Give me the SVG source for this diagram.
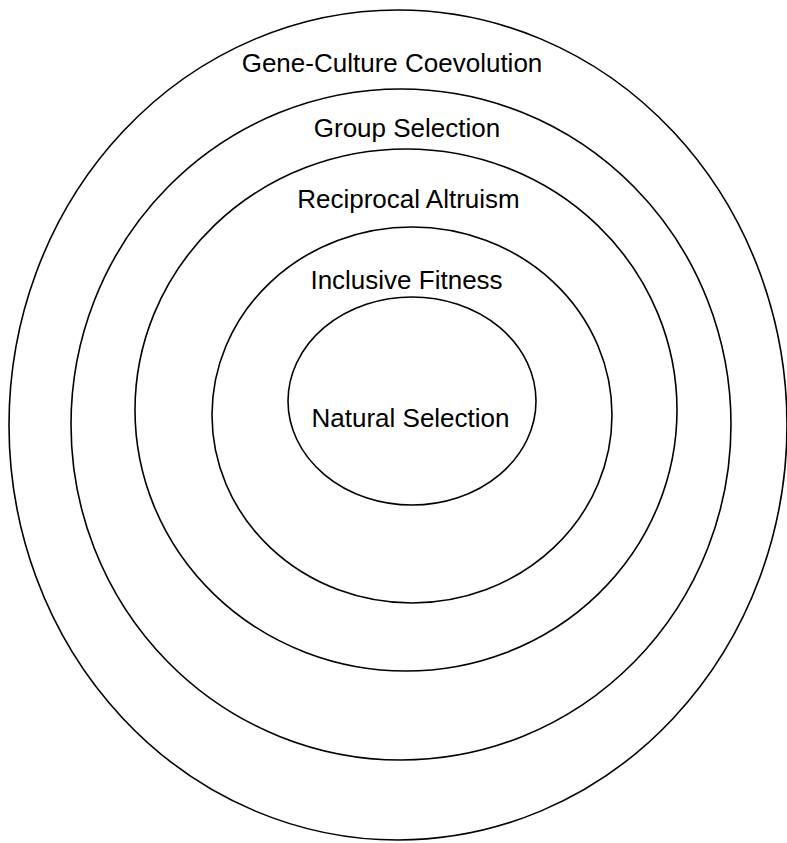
<svg xmlns="http://www.w3.org/2000/svg" width="787" height="843" viewBox="0 0 787 843">
<style>
.ring{fill:none;stroke:#000;stroke-width:1.6}
.lbl{font-family:"Liberation Sans",Arial,sans-serif;font-size:26px;fill:#000;text-anchor:middle}
</style>
<rect width="787" height="843" fill="#fff"/>
<g id="gene-culture-coevolution">
<ellipse class="ring" cx="398" cy="425" rx="389" ry="415"/>
<text class="lbl" x="392" y="72">Gene-Culture Coevolution</text>
</g>
<g id="group-selection">
<ellipse class="ring" cx="401" cy="424.5" rx="330" ry="335.5"/>
<text class="lbl" x="407" y="137">Group Selection</text>
</g>
<g id="reciprocal-altruism">
<ellipse class="ring" cx="406" cy="410" rx="271" ry="261"/>
<text class="lbl" x="408.5" y="208">Reciprocal Altruism</text>
</g>
<g id="inclusive-fitness">
<ellipse class="ring" cx="412" cy="415" rx="200" ry="188"/>
<text class="lbl" x="406.5" y="289">Inclusive Fitness</text>
</g>
<g id="natural-selection">
<ellipse class="ring" cx="412" cy="401" rx="124" ry="104"/>
<text class="lbl" x="410.5" y="427">Natural Selection</text>
</g>
<g id="connectors"/>
</svg>
